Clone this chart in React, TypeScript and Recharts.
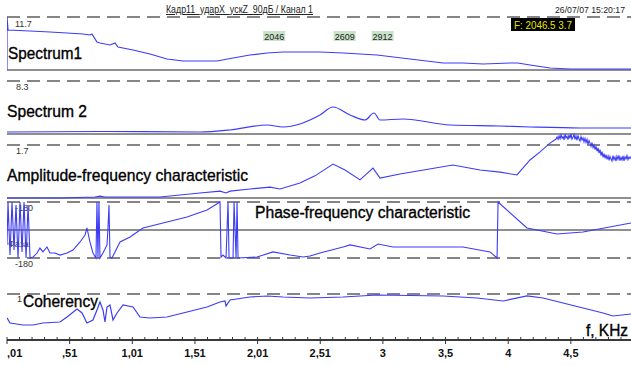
import React from 'react';
import { ComposedChart, Line, XAxis, YAxis, ReferenceLine } from 'recharts';

// ---------------- data (frequency in kHz, panel-specific units) ----------------
const xDomain: [number, number] = [0.01, 4.99];
const xMajorTicks = [0.01, 0.51, 1.01, 1.51, 2.01, 2.51, 3.01, 3.51, 4.01, 4.51];
const xMajorLabels = [',01', ',51', '1,01', '1,51', '2,01', '2,51', '3', '3,5', '4', '4,5'];

const markerFreqs = [2.0465, 2.609, 2.912];
const markerLabels = ['2046', '2609', '2912'];
const cursorText = 'F: 2046.5  3.7';
const titleText = 'Кадр11_ударX_уcкZ_90дБ / Канал 1';
const dateText = '26/07/07 15:20:17';

const spectrum1: [number, number][] = [
  [0.01, 0], [0.01, 11.7], [0.018, 8.83], [0.194, 8.61], [0.353, 8.39], [0.489, 8.17],
  [0.617, 7.95], [0.672, 7.73], [0.688, 7.95], [0.728, 6.18], [0.752, 5.96], [0.832, 5.52],
  [0.872, 5.96], [0.896, 5.08], [1.016, 4.42], [1.151, 3.53], [1.287, 2.43], [1.415, 1.99],
  [1.55, 1.99], [1.686, 1.99], [1.814, 2.65], [1.949, 3.31], [2.085, 3.75], [2.213, 3.97],
  [2.428, 3.97], [2.508, 3.97], [2.692, 3.75], [2.963, 3.31], [3.226, 2.43], [3.49, 1.55],
  [3.649, 1.55], [3.809, 1.32], [4.024, 1.55], [4.088, 1.55], [4.184, 1.1], [4.344, 0.44],
  [4.504, 0.22], [4.99, 0.22],
];

const spectrum2: [number, number][] = [
  [0.01, 0.31], [0.752, 0.39], [1.55, 0.31], [1.79, 0.63], [2.085, 1.41], [2.213, 1.1],
  [2.348, 1.57], [2.428, 2.19], [2.508, 2.98], [2.612, 4.23], [2.748, 2.98], [2.867, 2.19],
  [2.939, 3.29], [2.987, 2.19], [3.17, 2.35], [3.546, 1.41], [3.945, 1.25], [4.184, 1.1],
  [4.583, 0.94], [4.99, 0.94],
];

const amplitude: [number, number][] = [
  [0.01, 0.0], [0.433, 0.0], [0.712, 0.03], [0.752, 0.06], [0.792, 0.03], [1.231, 0.03],
  [1.55, 0.16], [1.71, 0.22], [1.758, 0.16], [1.79, 0.22], [1.949, 0.29], [2.109, 0.35],
  [2.189, 0.29], [2.348, 0.48], [2.468, 0.71], [2.612, 1.09], [2.708, 0.9], [2.827, 0.58],
  [2.931, 0.96], [2.987, 0.64], [3.146, 0.77], [3.569, 1.06], [3.785, 0.9], [3.945, 0.83],
  [4.08, 0.74], [4.184, 1.22], [4.264, 1.48], [4.344, 1.76], [4.392, 1.89], [4.4, 1.96],
  [4.408, 1.88], [4.416, 1.99], [4.424, 1.9], [4.432, 2.03], [4.44, 1.92], [4.448, 1.97],
  [4.456, 1.86], [4.464, 2.05], [4.471, 1.93], [4.479, 1.98], [4.487, 1.87], [4.495, 2.02],
  [4.503, 1.91], [4.511, 2.06], [4.519, 1.89], [4.527, 1.95], [4.535, 2.04], [4.543, 1.88],
  [4.551, 1.99], [4.559, 1.85], [4.567, 2.01], [4.575, 1.9], [4.583, 1.83], [4.591, 1.97],
  [4.599, 1.86], [4.607, 1.93], [4.615, 1.8], [4.623, 1.91], [4.631, 1.78], [4.639, 1.88],
  [4.647, 1.72], [4.655, 1.84], [4.663, 1.76], [4.671, 1.66], [4.679, 1.78], [4.687, 1.62],
  [4.695, 1.7], [4.703, 1.55], [4.711, 1.66], [4.719, 1.5], [4.727, 1.61], [4.735, 1.44],
  [4.743, 1.55], [4.751, 1.36], [4.759, 1.49], [4.767, 1.3], [4.775, 1.42], [4.783, 1.27],
  [4.791, 1.39], [4.799, 1.24], [4.807, 1.35], [4.815, 1.21], [4.822, 1.33], [4.83, 1.26],
  [4.838, 1.19], [4.846, 1.36], [4.854, 1.23], [4.862, 1.31], [4.87, 1.18], [4.878, 1.34],
  [4.886, 1.24], [4.894, 1.37], [4.902, 1.2], [4.91, 1.3], [4.918, 1.22], [4.926, 1.35],
  [4.934, 1.19], [4.942, 1.32], [4.95, 1.25], [4.958, 1.36], [4.966, 1.23], [4.974, 1.31],
  [4.982, 1.27], [4.99, 1.33],
];

const phase: [number, number][] = [
  [0.01, -96], [0.018, 180], [0.034, -161], [0.05, 180], [0.066, -129], [0.082, 161],
  [0.098, -180], [0.114, 180], [0.13, -141], [0.146, 180], [0.162, -180], [0.178, 161],
  [0.194, -180], [0.218, -174], [0.249, -148], [0.273, -116], [0.297, -141], [0.329, -109],
  [0.353, -148], [0.393, -148], [0.433, -161], [0.489, -148], [0.537, -129], [0.593, -77],
  [0.633, -32], [0.648, 13], [0.672, -77], [0.696, -148], [0.72, -180], [0.728, 180],
  [0.736, -180], [0.744, 180], [0.752, -180], [0.776, -148], [0.808, -96], [0.816, 13],
  [0.824, 161], [0.832, -174], [0.848, -180], [0.912, -77], [0.992, -45], [1.095, 13],
  [1.287, 51], [1.447, 84], [1.606, 129], [1.71, 180], [1.718, -174], [1.734, -161],
  [1.758, -180], [1.774, 180], [1.782, -180], [1.814, -180], [1.822, 180], [1.838, -180],
  [1.846, 180], [1.854, -180], [2.005, -174], [2.133, -141], [2.269, -161], [2.372, -174],
  [2.428, -167], [2.508, -148], [2.692, -109], [2.748, -96], [2.907, -122], [2.971, -90],
  [3.091, -109], [3.649, -109], [3.865, -141], [3.921, -180], [3.929, 180], [4.16, 13],
  [4.399, -26], [4.607, -13], [4.99, 45],
];

const coherency: [number, number][] = [
  [0.01, 0.48], [0.034, 0.37], [0.138, 0.326], [0.218, 0.326], [0.297, 0.37], [0.433, 0.391],
  [0.489, 0.5], [0.569, 0.674], [0.609, 0.587], [0.648, 0.37], [0.696, 0.435], [0.728, 0.652],
  [0.752, 0.826], [0.776, 0.652], [0.792, 0.391], [0.808, 0.717], [0.832, 0.761], [0.856, 0.435],
  [0.888, 0.587], [0.936, 0.761], [1.016, 0.717], [1.071, 0.5], [1.151, 0.478], [1.287, 0.5],
  [1.447, 0.609], [1.606, 0.717], [1.71, 0.826], [1.75, 0.848], [1.758, 0.739], [1.79, 0.87],
  [1.949, 0.935], [2.085, 0.957], [2.213, 0.935], [2.428, 0.913], [2.692, 0.935], [2.963, 0.978],
  [3.49, 0.957], [3.761, 0.913], [3.969, 0.848], [4.16, 0.957], [4.288, 0.913], [4.447, 0.804],
  [4.607, 0.696], [4.767, 0.587], [4.846, 0.522], [4.99, 0.565],
];

// ---------------- layout ----------------
const W = 631;
const H = 365;
const PLOT_H = 340; // plot area from y=0 to y=340
const BLUE = '#3c3cf6';
const GRID = '#858585';
const FONT = '"Liberation Sans", Arial, sans-serif';

type Panel = { top: number; yTop: number; bot: number; yBot: number };
const panels: Record<string, Panel> = {
  s1: { top: 11.7, yTop: 17, bot: 0, yBot: 70 },
  s2: { top: 8.3, yTop: 81, bot: 0, yBot: 134 },
  afc: { top: 1.7, yTop: 145, bot: 0, yBot: 198 },
  ph: { top: 180, yTop: 202, bot: -180, yBot: 258 },
  coh: { top: 1, yTop: 294, bot: 0, yBot: 340 },
};
const domainOf = (p: Panel): [number, number] => {
  const k = (p.top - p.bot) / (p.yBot - p.yTop);
  return [p.top - (PLOT_H - p.yTop) * k, p.top + p.yTop * k];
};

const rows = (d: [number, number][]) => d.map(([f, v]) => ({ f, v }));

const allTicks: number[] = [];
for (let i = 0; i < 50; i++) allTicks.push(Math.round((0.01 + i * 0.1) * 100) / 100);

const XTick = (props: any) => {
  const { x, y, payload } = props;
  const mi = xMajorTicks.findIndex((t) => Math.abs(t - payload.value) < 1e-6);
  const major = mi >= 0;
  return (
    <g>
      <line x1={x} x2={x} y1={y - 3} y2={y + (major ? 4 : 0)} stroke="#333" strokeWidth={1} />
      {major && (
        <text
          x={x}
          y={y + 17}
          textAnchor={mi === 0 ? 'start' : 'middle'}
          fontFamily={FONT}
          fontWeight="bold"
          fontSize={11}
          fill="#111"
        >
          {xMajorLabels[mi]}
        </text>
      )}
    </g>
  );
};

const smallLabel = (text: string, dx: number, dy: number) => (props: any) => {
  const vb = props.viewBox || {};
  return (
    <text x={(vb.x ?? 0) + dx} y={(vb.y ?? 0) + dy} fontFamily={FONT} fontSize={9} fill="#333">
      {text}
    </text>
  );
};

const markerLabel = (text: string) => (props: any) => {
  const vb = props.viewBox || {};
  const x = vb.x ?? 0;
  const y = (vb.y ?? 0) + 31;
  return (
    <g>
      <rect x={x + 1} y={y} width={22} height={10} fill="#c9e3c9" />
      <text x={x + 12} y={y + 8.5} textAnchor="middle" fontFamily={FONT} fontSize={9} fill="#222">
        {text}
      </text>
    </g>
  );
};

const dashed = { stroke: GRID, strokeWidth: 2, strokeDasharray: '13 7' };
const solid = { stroke: '#6a6a6a', strokeWidth: 1.5 };
const heavy = { stroke: '#000', strokeWidth: 0.35 };

export default function App() {
  return (
    <div style={{ position: 'absolute', left: 0, top: 0, width: W, height: H, background: '#fff' }}>
      <ComposedChart width={W} height={H} margin={{ top: 0, right: 0, bottom: 0, left: 7 }}>
        <XAxis
          xAxisId="x"
          type="number"
          dataKey="f"
          domain={xDomain}
          allowDataOverflow
          ticks={allTicks}
          interval={0}
          tick={<XTick />}
          tickLine={false}
          tickSize={0}
          tickMargin={0}
          height={25}
          axisLine={{ stroke: '#3a3a3a', strokeWidth: 2 }}
        />
        {Object.entries(panels).map(([id, p]) => (
          <YAxis key={id} yAxisId={id} type="number" domain={domainOf(p)} allowDataOverflow hide />
        ))}

        <ReferenceLine xAxisId="x" yAxisId="s1" y={11.7} {...dashed} label={smallLabel('11.7', 8, 9.5)} />
        <ReferenceLine xAxisId="x" yAxisId="s1" y={0} {...solid} />
        <ReferenceLine xAxisId="x" yAxisId="s2" y={8.3} {...dashed} label={smallLabel('8.3', 9, 8.5)} />
        <ReferenceLine xAxisId="x" yAxisId="s2" y={0} {...solid} />
        <ReferenceLine xAxisId="x" yAxisId="afc" y={1.7} {...dashed} label={smallLabel('1.7', 9, 8.5)} />
        <ReferenceLine xAxisId="x" yAxisId="afc" y={0} {...solid} />
        <ReferenceLine xAxisId="x" yAxisId="ph" y={180} {...dashed} label={smallLabel('-180', 8, 8.5)} />
        <ReferenceLine xAxisId="x" yAxisId="ph" y={0} {...solid} label={smallLabel('Фаза', 1, 17)} />
        <ReferenceLine xAxisId="x" yAxisId="ph" y={-180} {...dashed} label={smallLabel('-180', 8, 8.5)} />
        <ReferenceLine xAxisId="x" yAxisId="coh" y={1} {...dashed} label={smallLabel('1', 10, 7.5)} />

        {markerFreqs.map((f, i) => (
          <ReferenceLine
            key={f}
            xAxisId="x"
            yAxisId="s1"
            x={f}
            stroke="none"
            label={markerLabel(markerLabels[i])}
          />
        ))}

        <Line xAxisId="x" yAxisId="s1" data={rows(spectrum1)} dataKey="v" type="linear" dot={false} stroke={BLUE} strokeWidth={1.2} isAnimationActive={false} />
        <Line xAxisId="x" yAxisId="s2" data={rows(spectrum2)} dataKey="v" type="monotone" dot={false} stroke={BLUE} strokeWidth={1.2} isAnimationActive={false} />
        <Line xAxisId="x" yAxisId="afc" data={rows(amplitude)} dataKey="v" type="linear" dot={false} stroke={BLUE} strokeWidth={1.1} isAnimationActive={false} />
        <Line xAxisId="x" yAxisId="ph" data={rows(phase)} dataKey="v" type="linear" dot={false} stroke={BLUE} strokeWidth={1.1} isAnimationActive={false} />
        <Line xAxisId="x" yAxisId="coh" data={rows(coherency)} dataKey="v" type="linear" dot={false} stroke={BLUE} strokeWidth={1.2} isAnimationActive={false} />
      </ComposedChart>

      <svg width={W} height={H} style={{ position: 'absolute', left: 0, top: 0, pointerEvents: 'none' }}>
        <g fontFamily={FONT} fill="#000">
          <text x={166} y={13} fontSize={10} fill="#222" textLength={147} lengthAdjust="spacingAndGlyphs" textDecoration="underline">
            {titleText}
          </text>
          <text x={625} y={13} textAnchor="end" fontSize={9} fill="#222" textLength={70} lengthAdjust="spacingAndGlyphs">
            {dateText}
          </text>
          <rect x={511} y={18} width={64} height={13} fill="#000" />
          <text x={514} y={28.5} fontSize={10} fill="#e6e600" textLength={58} lengthAdjust="spacingAndGlyphs">
            {cursorText}
          </text>
          <text x={8} y={59} fontSize={17} textLength={74} lengthAdjust="spacingAndGlyphs" {...heavy}>Spectrum1</text>
          <text x={7} y={117} fontSize={17} textLength={80} lengthAdjust="spacingAndGlyphs" {...heavy}>Spectrum 2</text>
          <text x={7} y={181} fontSize={17} textLength={241} lengthAdjust="spacingAndGlyphs" {...heavy}>Amplitude-frequency characteristic</text>
          <text x={255} y={218} fontSize={16} textLength={215} lengthAdjust="spacingAndGlyphs" {...heavy}>Phase-frequency characteristic</text>
          <text x={23} y={307} fontSize={16} textLength={75} lengthAdjust="spacingAndGlyphs" {...heavy}>Coherency</text>
          <text x={628} y={336} textAnchor="end" fontSize={16} textLength={42} lengthAdjust="spacingAndGlyphs" {...heavy}>f, KHz</text>
        </g>
      </svg>
    </div>
  );
}
